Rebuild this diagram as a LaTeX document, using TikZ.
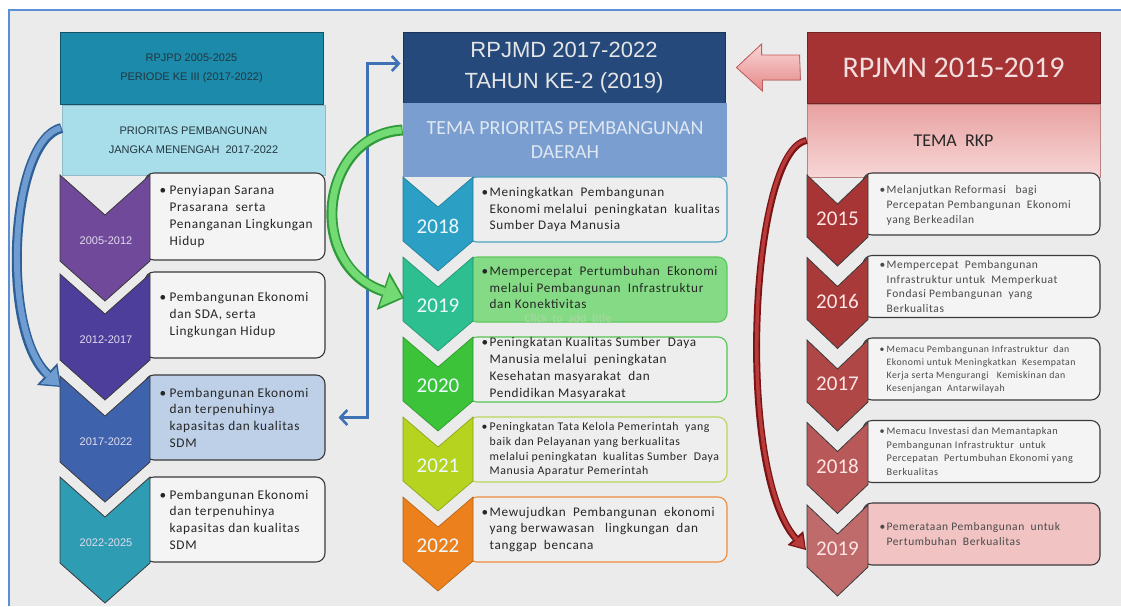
\documentclass[tikz,border=0pt]{standalone}
\usepackage{fontspec}
\setmainfont{Carlito}
\newfontfamily\arialf{Liberation Sans}
\newfontfamily\boxf[LetterSpace=5]{Carlito}
\usetikzlibrary{arrows.meta,calc}
\definecolor{bgc}{HTML}{EBEBEB}
\definecolor{framec}{HTML}{5B8FD6}
\definecolor{lheadc}{HTML}{1C8AAA}
\definecolor{lhtext}{HTML}{22363F}
\definecolor{lthemec}{HTML}{A8DDEA}
\definecolor{lch1}{HTML}{70499A}
\definecolor{lch2}{HTML}{4E3E9C}
\definecolor{lch3}{HTML}{3E63AC}
\definecolor{lch4}{HTML}{2E9CB2}
\definecolor{lyearc}{HTML}{E2DCEE}
\definecolor{lb3fill}{HTML}{BDD0E8}
\definecolor{boxfill}{HTML}{F4F4F4}
\definecolor{mboxfill}{HTML}{EEEEEE}
\definecolor{boxedge}{HTML}{3A3A3A}
\definecolor{chevedge}{HTML}{3A3A3A}
\definecolor{textc}{HTML}{262626}
\definecolor{rtextc}{HTML}{4A4A4A}
\definecolor{mheadc}{HTML}{25497B}
\definecolor{mthemec}{HTML}{7A9ECF}
\definecolor{mthemetext}{HTML}{DFE8F2}
\definecolor{mch1}{HTML}{2BA0C4}
\definecolor{mch2}{HTML}{2DBF90}
\definecolor{mch3}{HTML}{3CC33A}
\definecolor{mch4}{HTML}{B5D31F}
\definecolor{mch5}{HTML}{EC801C}
\definecolor{mb1e}{HTML}{4AA0C0}
\definecolor{mb2f}{HTML}{85DB85}
\definecolor{mb2e}{HTML}{5FC75F}
\definecolor{mb3e}{HTML}{55C455}
\definecolor{mb4e}{HTML}{B9D65A}
\definecolor{mb5e}{HTML}{EE8B3C}
\definecolor{rheadc}{HTML}{A53333}
\definecolor{rheadtext}{HTML}{F2DEDE}
\definecolor{rthemetop}{HTML}{E9A1A1}
\definecolor{rthemebot}{HTML}{F7D6D6}
\definecolor{rch1}{HTML}{A73535}
\definecolor{rch2}{HTML}{A93A3A}
\definecolor{rch3}{HTML}{B04747}
\definecolor{rch4}{HTML}{B85859}
\definecolor{rch5}{HTML}{BF6A6B}
\definecolor{rb5fill}{HTML}{F2C3C3}
\definecolor{parrowtop}{HTML}{F9D6D6}
\definecolor{parrowbot}{HTML}{E68888}
\definecolor{parrowedge}{HTML}{C25B5B}
\definecolor{linkblue}{HTML}{3F72B5}
\definecolor{gdark}{HTML}{2E9A3A}
\definecolor{glight}{HTML}{74DB74}
\definecolor{bdark}{HTML}{2F5F97}
\definecolor{blight}{HTML}{6F9DD2}
\definecolor{rdark}{HTML}{7A1414}
\definecolor{rlight}{HTML}{B83A3A}
\definecolor{ghostc}{HTML}{A9D8A4}
\newcommand\bl[1]{\makebox[#1][l]{\textbullet}}
\newcommand\ind[1]{\hspace*{#1}}
\newcommand\mychev[6]{\filldraw[#6] (#1,#3) -- ++(#2/2,#5) -- ++(#2/2,-#5) -- ++(0,#4) -- ++(-#2/2,#5) -- ++(-#2/2,-#5) -- cycle;}
\begin{document}
\begin{tikzpicture}[x=1pt,y=-1pt,
  hbox/.style={inner sep=0pt, align=center, line width=0.8pt},
  tbox/.style={rounded corners=9pt, line width=1.1pt, inner sep=0pt, draw=boxedge},
  ttext/.style={align=left, inner sep=0pt, anchor=west, text=textc},
  lyear/.style={font=\arialf\fontsize{11}{12}\selectfont, text=lyearc, inner sep=0pt},
  yearlbl/.style={font=\fontsize{21}{24}\selectfont, inner sep=0pt},
  cline/.style={line width=0.8pt, draw=chevedge},
]
\useasboundingbox (0,0) rectangle (1121,606);
\fill[white] (0,0) rectangle (1121,606);
\fill[bgc] (9,10) rectangle (1121,606);
\draw[framec, line width=1.5pt] (1121,10) -- (9,10) -- (9,606);

% ---------------- left column ----------------
\node[hbox, fill=lheadc, draw=lheadc!60!black, minimum width=263pt, minimum height=72pt,
  text=lhtext, font=\arialf\fontsize{11}{19}\selectfont] (lh) at (191.5,68)
  {RPJPD 2005-2025\\PERIODE KE III (2017-2022)};
\node[hbox, fill=lthemec, draw=lthemec!85!black, minimum width=263pt, minimum height=70pt,
  text=lhtext, font=\arialf\fontsize{11}{19}\selectfont] (lt) at (193.5,140)
  {PRIORITAS PEMBANGUNAN\\JANGKA MENENGAH\ \ 2017-2022};

\node[tbox, fill=boxfill, minimum width=180pt, minimum height=87pt] (lb1) at (235,216.5) {};
\node[tbox, fill=boxfill, minimum width=180pt, minimum height=86pt] (lb2) at (235,315) {};
\node[tbox, fill=lb3fill, minimum width=180pt, minimum height=85pt] (lb3) at (235,417.5) {};
\node[tbox, fill=boxfill, minimum width=180pt, minimum height=85pt] (lb4) at (235,519.5) {};

\mychev{60}{90}{175}{86}{40}{fill=lch1,cline}
\mychev{60}{90}{274}{86}{40}{fill=lch2,cline}
\mychev{60}{90}{376}{86}{40}{fill=lch3,cline}
\mychev{60}{90}{477}{86}{40}{fill=lch4,cline}
\node[lyear] (ly1) at (106,241) {2005-2012};
\node[lyear] (ly2) at (106,340) {2012-2017};
\node[lyear] (ly3) at (106,442) {2017-2022};
\node[lyear] (ly4) at (106,543) {2022-2025};

\begin{scope}[every node/.append style={font=\boxf\fontsize{13.3}{16.7}\selectfont}]
\node[ttext] (lx1) at ($(lb1.west)+(15,0)$) {\bl{10pt}Penyiapan Sarana\\\ind{10pt}Prasarana\ \ serta\\\ind{10pt}Penanganan Lingkungan\\\ind{10pt}Hidup};
\node[ttext] (lx2) at ($(lb2.west)+(15,0)$) {\bl{10pt}Pembangunan Ekonomi\\\ind{10pt}dan SDA, serta\\\ind{10pt}Lingkungan Hidup};
\node[ttext] (lx3) at ($(lb3.west)+(15,0)$) {\bl{10pt}Pembangunan Ekonomi\\\ind{10pt}dan terpenuhinya\\\ind{10pt}kapasitas dan kualitas\\\ind{10pt}SDM};
\node[ttext] (lx4) at ($(lb4.west)+(15,0)$) {\bl{10pt}Pembangunan Ekonomi\\\ind{10pt}dan terpenuhinya\\\ind{10pt}kapasitas dan kualitas\\\ind{10pt}SDM};
\end{scope}

% ---------------- middle column ----------------
\node[hbox, fill=mheadc, draw=mheadc!70!black, minimum width=322pt, minimum height=71pt,
  text=white!90!black, font=\arialf\fontsize{22}{31}\selectfont] (mh) at (564,67.5)
  {RPJMD 2017-2022\\TAHUN KE-2 (2019)};
\node[hbox, fill=mthemec, minimum width=324pt, minimum height=74pt,
  text=mthemetext, font=\fontsize{20}{24}\selectfont] (mt) at (565,140)
  {TEMA PRIORITAS PEMBANGUNAN\\DAERAH};

\node[tbox, fill=mboxfill, draw=mb1e, minimum width=259pt, minimum height=65pt] (mb1) at (597.5,209.5) {};
\node[tbox, fill=mb2f, draw=mb2e, minimum width=259pt, minimum height=65pt] (mb2) at (597.5,289.5) {};
\node[tbox, fill=mboxfill, draw=mb3e, minimum width=259pt, minimum height=65pt] (mb3) at (597.5,369.5) {};
\node[tbox, fill=mboxfill, draw=mb4e, minimum width=259pt, minimum height=65pt] (mb4) at (597.5,449.5) {};
\node[tbox, fill=mboxfill, draw=mb5e, minimum width=259pt, minimum height=65pt] (mb5) at (597.5,529.5) {};

\mychev{403}{70}{177}{64}{30}{fill=mch1,draw=mch1!75!black,line width=0.6pt}
\mychev{403}{70}{257}{64}{30}{fill=mch2,draw=mch2!75!black,line width=0.6pt}
\mychev{403}{70}{337}{64}{30}{fill=mch3,draw=mch3!75!black,line width=0.6pt}
\mychev{403}{70}{417}{64}{30}{fill=mch4,draw=mch4!75!black,line width=0.6pt}
\mychev{403}{70}{497}{64}{30}{fill=mch5,draw=mch5!75!black,line width=0.6pt}
\node[yearlbl, text=white!92!cyan] (my1) at (438,226) {2018};
\node[yearlbl, text=white!92!cyan] (my2) at (438,306) {2019};
\node[yearlbl, text=white!92!cyan] (my3) at (438,386) {2020};
\node[yearlbl, text=white!92!cyan] (my4) at (438,466) {2021};
\node[yearlbl, text=white!92!cyan] (my5) at (438,546) {2022};

\node[font=\fontsize{12}{14}\selectfont, text=ghostc, inner sep=0pt] (ghost) at (568,318) {Click\ \ to\ \ add\ \ title};

\begin{scope}[every node/.append style={font=\boxf\fontsize{13.2}{16.7}\selectfont}]
\node[ttext] (mx1) at ($(mb1.west)+(14,0)$) {\bl{8pt}Meningkatkan\ \ Pembangunan\\\ind{8pt}Ekonomi melalui\ \ peningkatan\ \ kualitas\\\ind{8pt}Sumber Daya Manusia};
\node[ttext] (mx2) at ($(mb2.west)+(14,-2)$) {\bl{8pt}Mempercepat\ \ Pertumbuhan\ \ Ekonomi\\\ind{8pt}melalui Pembangunan\ \ Infrastruktur\\\ind{8pt}dan Konektivitas};
\node[ttext] (mx3) at ($(mb3.west)+(14,-1)$) {\bl{8pt}Peningkatan Kualitas Sumber\ \ Daya\\\ind{8pt}Manusia melalui\ \ peningkatan\\\ind{8pt}Kesehatan masyarakat\ \ dan\\\ind{8pt}Pendidikan Masyarakat};
\node[ttext, font=\boxf\fontsize{11.8}{14.7}\selectfont] (mx4) at ($(mb4.west)+(14,0)$) {\bl{8pt}Peningkatan Tata Kelola Pemerintah\ \ yang\\\ind{8pt}baik dan Pelayanan yang berkualitas\\\ind{8pt}melalui peningkatan\ \ kualitas Sumber\ \ Daya\\\ind{8pt}Manusia Aparatur Pemerintah};
\node[ttext] (mx5) at ($(mb5.west)+(14,0)$) {\bl{8pt}Mewujudkan\ \ Pembangunan\ \ ekonomi\\\ind{8pt}yang berwawasan\ \ \ lingkungan\ \ dan\\\ind{8pt}tanggap\ \ bencana};
\end{scope}

% ---------------- right column ----------------
\node[hbox, fill=rheadc, draw=rheadc!70!black, minimum width=293pt, minimum height=71pt,
  text=rheadtext, font=\fontsize{30}{34}\selectfont] (rh) at (953.5,67.5) {RPJMN 2015-2019};
\node[hbox, top color=rthemetop, bottom color=rthemebot, draw=rthemetop!80!black, line width=0.5pt,
  minimum width=293pt, minimum height=73pt,
  text=textc, font=\fontsize{18}{22}\selectfont] (rt) at (953.5,140.5) {TEMA\ \ RKP};

\node[tbox, fill=boxfill, minimum width=237pt, minimum height=62pt] (rb1) at (981.5,204) {};
\node[tbox, fill=boxfill, minimum width=237pt, minimum height=62pt] (rb2) at (981.5,286.5) {};
\node[tbox, fill=boxfill, minimum width=237pt, minimum height=62pt] (rb3) at (981.5,369) {};
\node[tbox, fill=boxfill, minimum width=237pt, minimum height=62pt] (rb4) at (981.5,451.5) {};
\node[tbox, fill=rb5fill, minimum width=237pt, minimum height=62pt] (rb5) at (981.5,534) {};

\mychev{807}{61}{175}{62}{29}{fill=rch1,cline}
\mychev{807}{61}{257.5}{62}{29}{fill=rch2,cline}
\mychev{807}{61}{340}{62}{29}{fill=rch3,cline}
\mychev{807}{61}{422.5}{62}{29}{fill=rch4,cline}
\mychev{807}{61}{505}{62}{29}{fill=rch5,cline}
\node[yearlbl, text=white!90!red] (ry1) at (837.5,219) {2015};
\node[yearlbl, text=white!90!red] (ry2) at (837.5,301.5) {2016};
\node[yearlbl, text=white!90!red] (ry3) at (837.5,384) {2017};
\node[yearlbl, text=white!90!red] (ry4) at (837.5,466.5) {2018};
\node[yearlbl, text=white!90!red] (ry5) at (837.5,549) {2019};

\node[ttext, text=rtextc, font=\boxf\fontsize{11.5}{15}\selectfont] (rx1) at ($(rb1.west)+(17,1)$) {\bl{7pt}Melanjutkan Reformasi\ \ \ bagi\\\ind{7pt}Percepatan Pembangunan\ \ Ekonomi\\\ind{7pt}yang Berkeadilan};
\node[ttext, text=rtextc, font=\boxf\fontsize{11.5}{14.5}\selectfont] (rx2) at ($(rb2.west)+(17,0)$) {\bl{7pt}Mempercepat\ \ Pembangunan\\\ind{7pt}Infrastruktur untuk\ \ Memperkuat\\\ind{7pt}Fondasi Pembangunan\ \ yang\\\ind{7pt}Berkualitas};
\node[ttext, text=rtextc, font=\boxf\fontsize{9.8}{13}\selectfont] (rx3) at ($(rb3.west)+(17,0)$) {\bl{7pt}Memacu Pembangunan Infrastruktur\ \ dan\\\ind{7pt}Ekonomi untuk Meningkatkan\ \ Kesempatan\\\ind{7pt}Kerja serta Mengurangi\ \ \ Kemiskinan dan\\\ind{7pt}Kesenjangan\ \ Antarwilayah};
\node[ttext, text=rtextc, font=\boxf\fontsize{10.3}{13.4}\selectfont] (rx4) at ($(rb4.west)+(17,0)$) {\bl{7pt}Memacu Investasi dan Memantapkan\\\ind{7pt}Pembangunan Infrastruktur\ \ untuk\\\ind{7pt}Percepatan\ \ Pertumbuhan Ekonomi yang\\\ind{7pt}Berkualitas};
\node[ttext, text=rtextc, font=\boxf\fontsize{11.5}{15}\selectfont] (rx5) at ($(rb5.west)+(17,0)$) {\bl{7pt}Pemerataan Pembangunan\ \ untuk\\\ind{7pt}Pertumbuhan\ \ Berkualitas};

% ---------------- connectors ----------------
\filldraw[top color=parrowtop, bottom color=parrowbot, draw=parrowedge, line width=0.8pt, line join=miter]
  ($(rh.west)+(-7,-12.5)$) -- ++(-38,0) -- ++(0,-11) -- ($(mh.east)+(11,0)$)
  -- ++(26,23.5) -- ++(0,-11) -- ++(38,0) -- cycle;

\draw[linkblue, line width=2.6pt, {Straight Barb[length=7pt,width=15pt]}-{Straight Barb[length=7pt,width=15pt]}]
  ([xshift=13pt]lb3.east) -- ++(29,0) |- ([xshift=-2pt,yshift=4pt]mh.west);

\coordinate (lc3w) at (61,387);
\coordinate (mc2w) at (404,298);
\coordinate (rc5w) at (806,550);

\draw[line width=10pt, draw=bdark, -{Triangle[length=19pt,width=30pt,line width=0pt]}]
  ([yshift=12pt]lt.west) .. controls (10,140) and (0,330) .. (lc3w);
\draw[line width=6pt, draw=blight, shorten >=2pt, -{Triangle[length=15pt,width=23pt,line width=0pt,fill=blight]}]
  ([yshift=12pt,xshift=-1pt]lt.west) .. controls (10,140) and (0,330) .. (lc3w);

\draw[line width=11pt, draw=gdark, -{Triangle[length=22pt,width=40pt,line width=0pt]}]
  ([yshift=10pt]mt.west) .. controls (320,135) and (305,265) .. (mc2w);
\draw[line width=7pt, draw=glight, shorten >=2.5pt, -{Triangle[length=18pt,width=32pt,line width=0pt,fill=glight]}]
  ([yshift=10pt,xshift=-1pt]mt.west) .. controls (320,135) and (305,265) .. (mc2w);

\draw[line width=7pt, draw=rdark, -{Triangle[length=16pt,width=21pt,line width=0pt]}]
  (rt.west) .. controls (750,150) and (735,470) .. (rc5w);
\draw[line width=3.5pt, draw=rlight, shorten >=2pt, -{Triangle[length=12pt,width=15pt,line width=0pt,fill=rlight]}]
  ([xshift=-1pt]rt.west) .. controls (750,150) and (735,470) .. (rc5w);
\end{tikzpicture}
\end{document}
